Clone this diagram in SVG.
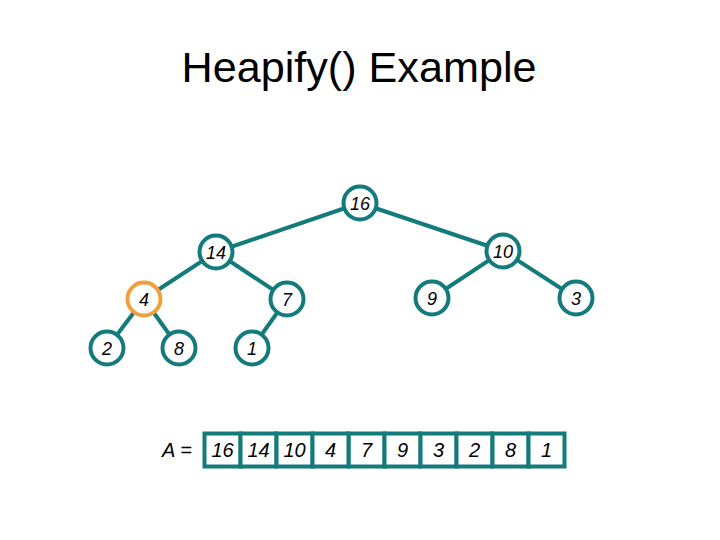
<svg xmlns="http://www.w3.org/2000/svg" width="720" height="540" viewBox="0 0 720 540">
<style>
.edge{stroke:#137b7b;stroke-width:4;fill:none}
.node{fill:#fff;stroke:#137b7b;stroke-width:4}
.hl{stroke:#f2a03d}
.lbl{font-family:"Liberation Sans",Arial,sans-serif;font-style:italic;font-size:18px;fill:#000;text-anchor:middle}
.arr{font-size:20px}
.cell{fill:#fff;stroke:#137b7b;stroke-width:4}
.title{font-family:"Liberation Sans",Arial,sans-serif;font-size:42px;fill:#000;text-anchor:middle}
</style>
<rect width="720" height="540" fill="#fff"/>
<text class="title" x="359" y="82" textLength="355" lengthAdjust="spacingAndGlyphs">Heapify() Example</text>
<g id="connectors">
<line class="edge" x1="360" y1="203" x2="216" y2="252"/>
<line class="edge" x1="360" y1="203" x2="503" y2="251"/>
<line class="edge" x1="216" y1="252" x2="144" y2="299"/>
<line class="edge" x1="216" y1="252" x2="287" y2="299"/>
<line class="edge" x1="503" y1="251" x2="432" y2="298"/>
<line class="edge" x1="503" y1="251" x2="576" y2="298"/>
<line class="edge" x1="144" y1="299" x2="107" y2="348"/>
<line class="edge" x1="144" y1="299" x2="179" y2="348"/>
<line class="edge" x1="287" y1="299" x2="252" y2="348"/>
</g>
<g id="n16"><circle class="node" cx="360" cy="203" r="16.5"/><text class="lbl" x="360" y="210">16</text></g>
<g id="n14"><circle class="node" cx="216" cy="252" r="16.5"/><text class="lbl" x="216" y="259">14</text></g>
<g id="n10"><circle class="node" cx="503" cy="251" r="16.5"/><text class="lbl" x="503" y="258">10</text></g>
<g id="n4"><circle class="node hl" cx="144" cy="299" r="16.5"/><text class="lbl" x="144" y="306">4</text></g>
<g id="n7"><circle class="node" cx="287" cy="299" r="16.5"/><text class="lbl" x="287" y="306">7</text></g>
<g id="n9"><circle class="node" cx="432" cy="298" r="16.5"/><text class="lbl" x="432" y="305">9</text></g>
<g id="n3"><circle class="node" cx="576" cy="298" r="16.5"/><text class="lbl" x="576" y="305">3</text></g>
<g id="n2"><circle class="node" cx="107" cy="348" r="16.5"/><text class="lbl" x="107" y="355">2</text></g>
<g id="n8"><circle class="node" cx="179" cy="348" r="16.5"/><text class="lbl" x="179" y="355">8</text></g>
<g id="n1"><circle class="node" cx="252" cy="348" r="16.5"/><text class="lbl" x="252" y="355">1</text></g>
<g id="array">
<text class="lbl arr" x="177" y="457">A =</text>
<rect class="cell" x="204.5" y="433.5" width="36" height="33"/>
<rect class="cell" x="240.5" y="433.5" width="36" height="33"/>
<rect class="cell" x="276.5" y="433.5" width="36" height="33"/>
<rect class="cell" x="348.5" y="433.5" width="36" height="33"/>
<rect class="cell" x="384.5" y="433.5" width="36" height="33"/>
<rect class="cell" x="420.5" y="433.5" width="36" height="33"/>
<rect class="cell" x="456.5" y="433.5" width="36" height="33"/>
<rect class="cell" x="492.5" y="433.5" width="36" height="33"/>
<rect class="cell" x="528.5" y="433.5" width="36" height="33"/>
<rect class="cell hl" x="312.5" y="433.5" width="36" height="33"/>
<text class="lbl arr" x="222.5" y="457">16</text>
<text class="lbl arr" x="258.5" y="457">14</text>
<text class="lbl arr" x="294.5" y="457">10</text>
<text class="lbl arr" x="330.5" y="457">4</text>
<text class="lbl arr" x="366.5" y="457">7</text>
<text class="lbl arr" x="402.5" y="457">9</text>
<text class="lbl arr" x="438.5" y="457">3</text>
<text class="lbl arr" x="474.5" y="457">2</text>
<text class="lbl arr" x="510.5" y="457">8</text>
<text class="lbl arr" x="546.5" y="457">1</text>
</g>
</svg>
